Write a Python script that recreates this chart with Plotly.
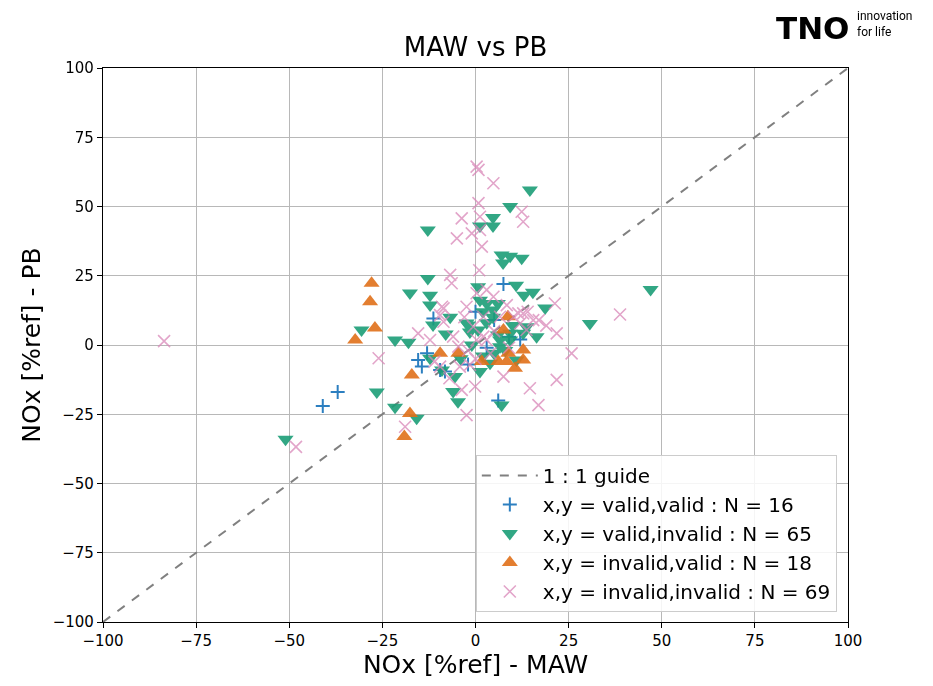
import plotly.graph_objects as go

# x = MAW, y = PB (NOx in %ref)
valid_valid_x = [-41, -37, -15.4, -14.4, -9.5, -8.2, -13, -11.3, 7.5, 6.1, 0, 3, 9, 12, -2, 5]
valid_valid_y = [-22, -17, -5.4, -7.8, -9, -9.6, -3, 9.6, 22, -20, 12, -1, 3, 2, -7, 9]

valid_invalid_x = [-51, -30.6, -26.5, -21.6, -21.6, -18, -15.8, -12.8, -12.8, -17.6, -12.2, -12.2,
                   -11.4, -6.8, -12.2, -5.5, -6, -4.7, -2, 0.7, 1.2, 7, 6, 9.3, 12.8, 16.4, 3.9,
                   6.6, 11, 18.7, 30.7, 47, 14.6, 9.3, 4.7, 4.7, 1.2, 7, 9.3, 12.4, 7.4, 10.9, 13,
                   15.4, 0.7, 1.2, 3, 4.7, 4.7, -2.4, -1.5, 6.6, 9.3, 13.7, -8, -4, 2, 3, -1, 8,
                   5, -9, 10, 6, 2]
valid_invalid_y = [-34, 5.4, -17, -22.5, 1.8, 1, -26.4, 41.5, 24, 18.8, 18, 14.4,
                   7.2, 10, -4.8, -11.4, -16.8, -20.5, 7.2, 5.4, -9.6, -21.7, 3.6, 4.2, 4.2, 3, -6.6,
                   -0.6, -5.4, 13.4, 7.8, 20, 56, 50, 46, 43, 43, 32.5, 32, 31.3, 29.6, 21.6, 18,
                   19, 21, 16.2, 15, 12.6, 10, 7.9, 4.7, 1.8, 1.8, 6.6, 4, -5, 12, 8, 0, -2,
                   -3, -9, 7, 15, -4]

invalid_valid_x = [-27.9, -28.3, -27, -32.3, -17.1, -17.6, -19.1, -9.5, -4.6, 1.7, 6.1, 8.4,
                   7.5, 8.7, 8.8, 10.6, 12.8, 12.8]
invalid_valid_y = [22.3, 15.6, 6.1, 1.8, -10.8, -24.7, -33, -3, -3, -6, -6, -6,
                   5.4, 10.2, -3, -8.4, -5.4, -1.8]

invalid_invalid_x = [-83.6, -48.2, -26, -18.9, -15.4, -12.2, -8.6, -9, -4.6, -3.7, -0.1, -2.4,
                     7.5, 14.6, 16.9, 21.8, 21.8, 25.8, 21.3, 0.3, 2.1, 11.5, 15.5, 13.7, -1.5,
                     -4.2, -9.5, 0.3, 0.8, 4.8, 0.8, 12.4, 12.8, -3.7, 1.2, -5, -1, 1.2, 1.7,
                     -6.8, -6.4, -8.6, -9.5, -2.4, 0.3, 3, 4.8, 8.4, 10.2, 12.8, 12, 6.6, 2.1,
                     -0.6, 3, 38.8, -6, 5, -2, 9, -11, 4, -3, 1, 17, 19, -7, 0, 14]
invalid_invalid_y = [1.4, -36.8, -4.8, -29.5, 4.2, 1.8, 8.4, 13.8, -0.6, -16.2, -15, -25.3,
                     -11.4, -15.6, -21.7, -12.6, 4.2, -3, 15, 1.8, 3, 11.4, 9, 5.4, -7.2,
                     -7.8, -7.8, 64.4, 63.2, 58.4, 51.2, 48.1, 44.5, 45.7, 46.3, 38.5, 40.3, 41.5, 35.5,
                     25.3, 22.3, 13.2, 10.8, 13.8, 18.7, 19.9, 17.4, 14.4, 10.2, 11.4, 7.8, 10.2, 10.2,
                     6.6, 1.8, 11, 3, 5, -2, -1, -6, -3, 10, 27, 9, 7, -12, -5, 12]

guide = [-100, 100]
font = "DejaVu Sans"

fig = go.Figure()
fig.add_trace(go.Scatter(x=guide, y=guide, mode="lines", name="1 : 1 guide",
                         line=dict(color="#808080", width=2, dash="dash")))
fig.add_trace(go.Scatter(x=valid_valid_x, y=valid_valid_y, mode="markers",
                         name="x,y = valid,valid : N = 16",
                         marker=dict(symbol="cross-thin", size=10, color="#2c7fc0",
                                     line=dict(color="#2c7fc0", width=2))))
fig.add_trace(go.Scatter(x=valid_invalid_x, y=valid_invalid_y, mode="markers",
                         name="x,y = valid,invalid : N = 65", opacity=0.9,
                         marker=dict(symbol="triangle-down", size=14, color="#1b9e77",
                                     line=dict(width=0))))
fig.add_trace(go.Scatter(x=invalid_valid_x, y=invalid_valid_y, mode="markers",
                         name="x,y = invalid,valid : N = 18", opacity=0.9,
                         marker=dict(symbol="triangle-up", size=14, color="#e0701a",
                                     line=dict(width=0))))
fig.add_trace(go.Scatter(x=invalid_invalid_x, y=invalid_invalid_y, mode="markers",
                         name="x,y = invalid,invalid : N = 69", opacity=0.75,
                         marker=dict(symbol="x-thin", size=12, color="#d987b8",
                                     line=dict(color="#d987b8", width=1.6))))

axis = dict(range=[-100, 100], tickvals=[-100, -75, -50, -25, 0, 25, 50, 75, 100],
            showgrid=True, gridcolor="#b8b8b8", gridwidth=1, zeroline=False,
            showline=True, linecolor="black", linewidth=1.2, mirror=True,
            ticks="outside", ticklen=5, tickcolor="black",
            tickfont=dict(size=15, color="black"))

fig.update_layout(
    width=933, height=686,
    margin=dict(l=103, r=85, t=68, b=64),
    paper_bgcolor="white", plot_bgcolor="white",
    font=dict(family=font, color="black"),
    title=dict(text="MAW vs PB", x=0.5, xanchor="center", xref="paper",
               y=0.9315, yanchor="middle", font=dict(size=26)),
    xaxis=dict(axis, title=dict(text="NOx [%ref] - MAW", font=dict(size=25), standoff=6)),
    yaxis=dict(axis, title=dict(text="NOx [%ref] - PB", font=dict(size=25), standoff=4)),
    legend=dict(x=0.985, y=0.018, xanchor="right", yanchor="bottom",
                bgcolor="rgba(255,255,255,0.85)", bordercolor="#cccccc", borderwidth=1,
                font=dict(size=20), itemwidth=56),
    showlegend=True,
)

# logo, top right
fig.add_annotation(x=1.003, y=1.072, xref="paper", yref="paper", xanchor="right", yanchor="middle",
                   text="<b>TNO</b>", showarrow=False, borderpad=0,
                   font=dict(family=font, size=31, color="black"))
fig.add_annotation(x=1.011, y=1.079, xref="paper", yref="paper", xanchor="left", yanchor="middle",
                   text="innovation<br>for life", showarrow=False, align="left", borderpad=0,
                   font=dict(family="Roboto", size=12, color="black"))

# drop the default page margin so the figure sits at the top-left corner
fig.write_html("out.html", config={"displayModeBar": False},
               post_script="document.body.style.margin = '0';")
